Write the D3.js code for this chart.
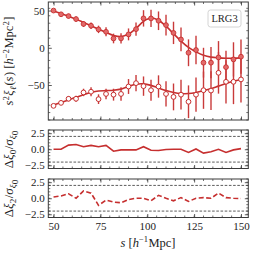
<!DOCTYPE html>
<html><head><meta charset="utf-8">
<script src="https://cdn.jsdelivr.net/npm/d3@7"></script>
<style>
html,body{margin:0;padding:0;background:#fff;}
svg{display:block;}
text{font-family:"Liberation Serif","DejaVu Serif",serif;fill:#222;}
</style></head>
<body>
<svg id="chart" width="253" height="253"></svg>
<script>
const s = [50,54,58,62,66,70,74,78,82,86,90,94,98,102,106,110,114,118,122,126,130,134,138,142,146,150];
const xi0 = [50,45,42.6,38.6,32,29.6,24.7,21.5,12.5,12.6,18,25,39.5,39.5,36.3,30.5,20,11.2,-6.7,-3,-20,-20,-13,-26,-15.6,-12];
const xi0Err = [2,2.5,3,3.5,4,4.5,5,6,6.5,7,8,9,11,11.5,12.5,14,15,16,18,19,20,21,22,22,23,23];
const xi2 = [-78,-74,-68.5,-68.5,-60,-59,-69,-62,-63,-62,-52,-47.5,-51.5,-57,-52,-62,-66,-63,-72.5,-63,-57,-57.5,-33.6,-45.7,-45.7,-42.5];
const xi2Err = [2.5,3,3.5,4,5,6,6.5,7,8,9,10,11,13,14,15,17,18,20,22,23,25,26,28,29,30,31];
const model0 = [49.5,46,42.5,38.5,34,29.5,25,20.5,16.5,15,18.5,26,35.5,40,37,29,19,9,0.5,-5.5,-10,-12.5,-13.5,-14,-14,-13.5];
const model2 = [-77,-73.5,-70,-66.5,-63,-60,-58,-57.5,-57,-55.5,-52,-49,-48.5,-50.5,-54,-57.5,-60,-61.5,-61.5,-60,-57.5,-55,-51.5,-48,-45,-42.5];
const res0 = [0,0,0.65,0.75,0.4,0.6,0.4,0.6,-0.3,-0.1,-0.1,-0.1,0.4,-0.15,-0.2,-0.05,0,0,-0.5,0.05,-0.6,-0.4,0,-0.5,-0.1,0.1];
const res2 = [0.2,0.35,0.7,0,1.15,0.8,-1.1,-0.3,-0.6,-0.7,-0.2,0,0,-0.4,0.45,0,-0.4,0.1,-0.5,0,0.1,0,0.8,0.1,0,-0.05];
const xTicks = [50,75,100,125,150];
const yTicksMain = [-50,0,50];
const yTicksRes = [-2.5,0,2.5];
const resBands = [-2,2];
const tag = "LRG3";

const RED = "#c62f2f", BAR = "#c93a3a", FILL = "#e26a6a";
const SERIF = '"Liberation Serif","DejaVu Serif",serif';
const svg = d3.select("#chart");
const L = 48.3, R = 248.3;
const x = d3.scaleLinear().domain([47.2,153.9]).range([L,R]);
const fmtMain = d => (d<0?"\u2212":"") + Math.abs(d);
const fmtRes = d => (d<0?"\u2212":"") + Math.abs(d).toFixed(1);

function panel(top, bottom, ydom, yt, ymin, fmt, showX){
  const y = d3.scaleLinear().domain(ydom).range([bottom, top]);
  const g = svg.append("g");
  const minorX = d3.range(45,156,5).filter(v=>v>=x.domain()[0]&&v<=x.domain()[1]);
  const minorY = d3.range(ydom[0], ydom[1]+1e-9, ymin).filter(v=>v>=ydom[0]&&v<=ydom[1]);
  const mt = g.append("g").attr("stroke","#333").attr("stroke-width",0.7);
  minorX.forEach(v=>{
    mt.append("line").attr("x1",x(v)).attr("x2",x(v)).attr("y1",bottom).attr("y2",bottom-2);
    mt.append("line").attr("x1",x(v)).attr("x2",x(v)).attr("y1",top).attr("y2",top+2);
  });
  minorY.forEach(v=>{
    mt.append("line").attr("x1",L).attr("x2",L+2).attr("y1",y(v)).attr("y2",y(v));
    mt.append("line").attr("x1",R).attr("x2",R-2).attr("y1",y(v)).attr("y2",y(v));
  });
  const ax = (a)=>a.tickSizeOuter(0);
  const gl = g.append("g").attr("transform",`translate(${L},0)`)
    .call(ax(d3.axisLeft(y).tickValues(yt).tickSize(-3.5).tickPadding(3.5).tickFormat(fmt)));
  const gr = g.append("g").attr("transform",`translate(${R},0)`)
    .call(ax(d3.axisRight(y).tickValues(yt).tickSize(-3.5).tickFormat("")));
  const gb = g.append("g").attr("transform",`translate(0,${bottom})`)
    .call(ax(d3.axisBottom(x).tickValues(xTicks).tickSize(-3.5).tickPadding(5).tickFormat(showX?(d=>d):"")));
  const gt = g.append("g").attr("transform",`translate(0,${top})`)
    .call(ax(d3.axisTop(x).tickValues(xTicks).tickSize(-3.5).tickFormat("")));
  [gl,gr,gb,gt].forEach(a=>{
    a.attr("font-family",SERIF).attr("font-size",11);
    a.select(".domain").remove();
    a.selectAll(".tick line").attr("stroke","#333").attr("stroke-width",0.8);
    a.selectAll("text").attr("font-size",11).attr("fill","#222").attr("font-family",SERIF);
  });
  g.append("rect").attr("x",L).attr("y",top).attr("width",R-L).attr("height",bottom-top)
    .attr("fill","none").attr("stroke","#3a3a3a").attr("stroke-width",1);
  return {g,y};
}

const P = panel(2, 120, [-97,61.5], yTicksMain, 10, fmtMain, false);
const lineM = d3.line().x((d,i)=>x(s[i])).y(d=>P.y(d)).curve(d3.curveCatmullRom);
const pts0 = s.map((v,i)=>({s:v,v:xi0[i],e:xi0Err[i]}));
const pts2 = s.map((v,i)=>({s:v,v:xi2[i],e:xi2Err[i]}));
const gm = P.g.append("g");
gm.append("path").attr("d",lineM(model0)).attr("fill","none").attr("stroke",RED).attr("stroke-width",1.6);
gm.append("path").attr("d",lineM(model2)).attr("fill","none").attr("stroke",RED).attr("stroke-width",1.6);
[pts0,pts2].forEach(pts=>{
  gm.selectAll(null).data(pts).join("line")
    .attr("x1",d=>x(d.s)).attr("x2",d=>x(d.s))
    .attr("y1",d=>P.y(d.v-d.e)).attr("y2",d=>P.y(d.v+d.e))
    .attr("stroke",BAR).attr("stroke-width",1.4);
});
gm.selectAll(null).data(pts0).join("circle")
  .attr("cx",d=>x(d.s)).attr("cy",d=>P.y(d.v)).attr("r",2.4)
  .attr("fill",FILL).attr("stroke",RED).attr("stroke-width",0.9);
gm.selectAll(null).data(pts2).join("circle")
  .attr("cx",d=>x(d.s)).attr("cy",d=>P.y(d.v)).attr("r",2.4)
  .attr("fill","#fff").attr("stroke",RED).attr("stroke-width",1);
const tb = P.g.append("g");
tb.append("rect").attr("x",208).attr("y",10).attr("width",33).attr("height",17).attr("rx",2.5)
  .attr("fill","#fff").attr("stroke","#cfcfcf").attr("stroke-width",0.9);
tb.append("text").attr("x",224.5).attr("y",22.2).attr("text-anchor","middle")
  .attr("font-size",10.5).attr("font-family",'"Liberation Mono","Courier New",monospace').text(tag);

function resPanel(top,bottom,vals,dash,showX){
  const Q = panel(top,bottom,[-3,3],yTicksRes,0.5,fmtRes,showX);
  resBands.forEach(b=>{
    Q.g.append("line").attr("x1",L).attr("x2",R).attr("y1",Q.y(b)).attr("y2",Q.y(b))
      .attr("stroke","#333").attr("stroke-width",0.8).attr("stroke-dasharray","2.6,1.6");
  });
  const ln = d3.line().x((d,i)=>x(s[i])).y(d=>Q.y(d));
  Q.g.append("path").attr("d",ln(vals)).attr("fill","none").attr("stroke",RED)
    .attr("stroke-width",1.6).attr("stroke-dasharray",dash);
  return Q;
}
resPanel(130,168.5,res0,null,false);
resPanel(179,217.5,res2,"5,2.5",true);

function ylab(cx,cy,parts,fs){
  const t = svg.append("text").attr("transform",`translate(${cx},${cy}) rotate(-90)`)
    .attr("text-anchor","middle").attr("font-size",fs);
  let cur = 0;
  parts.forEach(p=>{
    const [txt,style,shift,dx] = p;
    const ts = t.append("tspan").text(txt);
    const target = shift||0;
    ts.attr("dy", target-cur); cur = target;
    if(dx) ts.attr("dx",dx);
    if(style==="i") ts.attr("font-style","italic");
    if(shift) ts.attr("font-size",fs*0.7);
  });
  return t;
}
ylab(13,61,[["s","i"],["2","",-4.5],["ξ","i",0,0.5],["ℓ","i",3,0.3],["(","",0,0.8],["s","i"],[")","",0,0.5],[" [",""],["h","i"],["−2","",-4.5],["Mpc","",0,0.5],["2","",-4.5],["]","",0,0.5]],12.5);
ylab(13,149.5,[["Δ",""],["ξ","i"],["0","",3],["/","",0,0.5],["σ","i"],["ξ","i",3],["0","",5]],13);
ylab(13,198.5,[["Δ",""],["ξ","i"],["2","",3],["/","",0,0.5],["σ","i"],["ξ","i",3],["0","",5]],13);
const xl = svg.append("text").attr("x",148).attr("y",246.5).attr("text-anchor","middle").attr("font-size",12.5);
xl.append("tspan").attr("font-style","italic").text("s");
xl.append("tspan").text(" [");
xl.append("tspan").attr("font-style","italic").text("h");
xl.append("tspan").attr("dy",-4.5).attr("font-size",8.5).text("−1");
xl.append("tspan").attr("dy",4.5).attr("dx",0.5).text("Mpc]");
</script>
</body></html>
